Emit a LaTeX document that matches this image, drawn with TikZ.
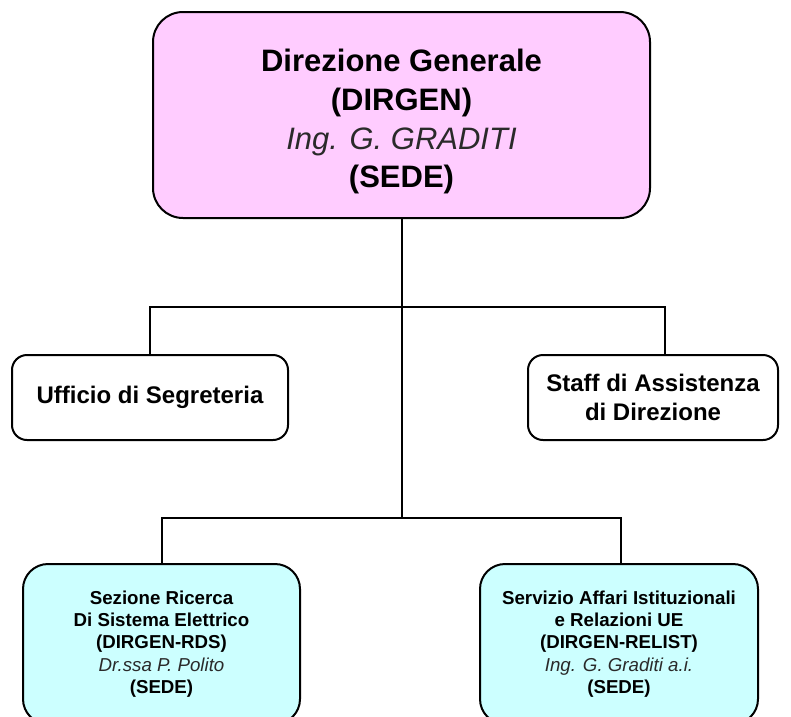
\documentclass[tikz,border=0pt]{standalone}
\usepackage{fontspec}
\setmainfont{Liberation Sans}
\definecolor{pinkfill}{HTML}{FFCCFF}
\definecolor{cyanfill}{HTML}{CCFFFF}
\definecolor{itgray}{HTML}{2A2A2A}
\begin{document}
\begin{tikzpicture}[x=1pt,y=-1pt,
  box/.style={draw=black, line width=2pt, rectangle, inner sep=0pt, align=center, font=\bfseries},
  conn/.style={draw=black, line width=2pt},
]
\useasboundingbox (0,0) rectangle (791,716);
\clip (0,0) rectangle (791,716);
\node[box, fill=pinkfill, rounded corners=30pt, minimum width=497pt, minimum height=206pt,
  font=\fontsize{31}{38.7}\selectfont\bfseries] (top) at (401.5,115)
  {\rule{0pt}{36pt}Direzione Generale\\(DIRGEN)\\{\mdseries\itshape\color{itgray}Ing. G. GRADITI}\\(SEDE)};
\node[box, fill=white, rounded corners=15pt, minimum width=276pt, minimum height=85pt,
  font=\fontsize{24}{29}\selectfont\bfseries] (uff) at (150,397.5) {Ufficio di Segreteria};
\node[box, fill=white, rounded corners=15pt, minimum width=250pt, minimum height=85pt,
  font=\fontsize{24}{29}\selectfont\bfseries] (staff) at (653,397.5) {Staff di Assistenza\\di Direzione};
\node[box, fill=cyanfill, rounded corners=25pt, minimum width=277pt, minimum height=160pt,
  font=\fontsize{18.7}{22.3}\selectfont\bfseries] (sez) at (161.5,644)
  {Sezione Ricerca\\Di Sistema Elettrico\\(DIRGEN-RDS)\\{\mdseries\itshape\color{itgray}Dr.ssa P. Polito}\\(SEDE)};
\node[box, fill=cyanfill, rounded corners=25pt, minimum width=278pt, minimum height=160pt,
  font=\fontsize{18.7}{22.3}\selectfont\bfseries] (serv) at (619,644)
  {Servizio Affari Istituzionali\\e Relazioni UE\\(DIRGEN-RELIST)\\{\mdseries\itshape\color{itgray}Ing. G. Graditi a.i.}\\(SEDE)};
\coordinate (mR) at (665,307);
\coordinate (bR) at (621,518);
\coordinate (bL) at (162,518);
\draw[conn] (top.south) -- (top.south |- bL);
\draw[conn] (uff.north) |- (mR) -- (staff.north -| mR);
\draw[conn] (sez.north -| bL) -- (bL) -- (bR) -- (serv.north -| bR);
\end{tikzpicture}
\end{document}
